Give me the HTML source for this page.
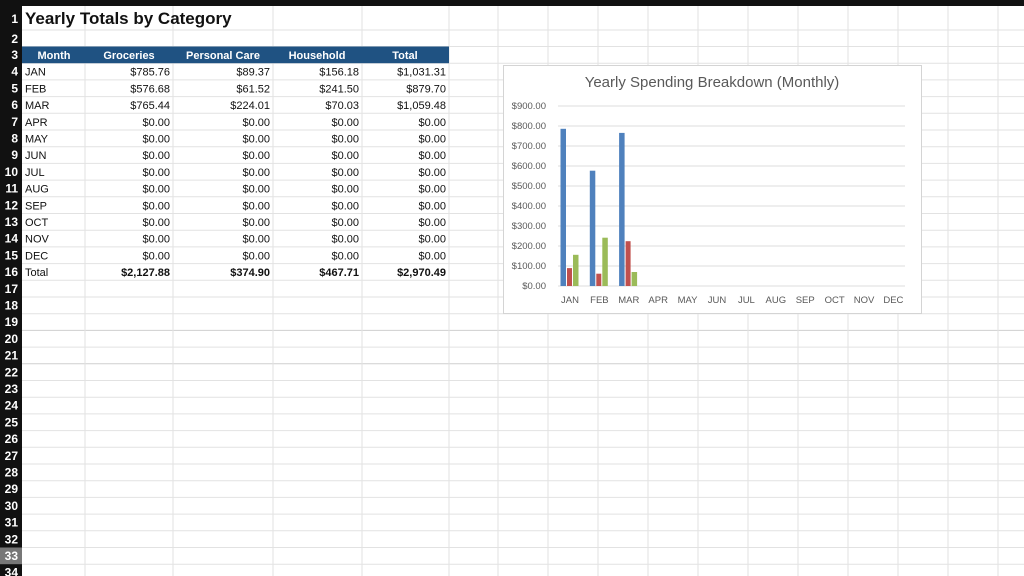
<!DOCTYPE html>
<html><head><meta charset="utf-8"><style>
html,body{margin:0;padding:0;background:#fff;}
svg{display:block;font-family:"Liberation Sans",sans-serif;}
</style></head><body>
<svg width="1024" height="576" viewBox="0 0 1024 576" xmlns="http://www.w3.org/2000/svg">
<rect width="1024" height="576" fill="#fff"/>
<!-- grid -->
<g stroke="#e2e2e2" stroke-width="1">
<line x1="22" y1="30" x2="1024" y2="30"/><line x1="22" y1="46.5" x2="1024" y2="46.5"/><line x1="22" y1="63.2" x2="1024" y2="63.2"/><line x1="22" y1="79.9" x2="1024" y2="79.9"/><line x1="22" y1="96.6" x2="1024" y2="96.6"/><line x1="22" y1="113.3" x2="1024" y2="113.3"/><line x1="22" y1="130" x2="1024" y2="130"/><line x1="22" y1="146.7" x2="1024" y2="146.7"/><line x1="22" y1="163.4" x2="1024" y2="163.4"/><line x1="22" y1="180.1" x2="1024" y2="180.1"/><line x1="22" y1="196.8" x2="1024" y2="196.8"/><line x1="22" y1="213.5" x2="1024" y2="213.5"/><line x1="22" y1="230.2" x2="1024" y2="230.2"/><line x1="22" y1="246.9" x2="1024" y2="246.9"/><line x1="22" y1="263.6" x2="1024" y2="263.6"/><line x1="22" y1="280.3" x2="1024" y2="280.3"/><line x1="22" y1="297" x2="1024" y2="297"/><line x1="22" y1="313.7" x2="1024" y2="313.7"/><line x1="22" y1="330.4" x2="1024" y2="330.4" stroke="#cfcfcf"/><line x1="22" y1="347.1" x2="1024" y2="347.1"/><line x1="22" y1="363.8" x2="1024" y2="363.8" stroke="#cfcfcf"/><line x1="22" y1="380.5" x2="1024" y2="380.5"/><line x1="22" y1="397.2" x2="1024" y2="397.2"/><line x1="22" y1="413.9" x2="1024" y2="413.9"/><line x1="22" y1="430.6" x2="1024" y2="430.6"/><line x1="22" y1="447.3" x2="1024" y2="447.3"/><line x1="22" y1="464" x2="1024" y2="464"/><line x1="22" y1="480.7" x2="1024" y2="480.7"/><line x1="22" y1="497.4" x2="1024" y2="497.4"/><line x1="22" y1="514.1" x2="1024" y2="514.1"/><line x1="22" y1="530.8" x2="1024" y2="530.8"/><line x1="22" y1="547.5" x2="1024" y2="547.5"/><line x1="22" y1="564.2" x2="1024" y2="564.2"/>
<line x1="85" y1="6" x2="85" y2="576"/><line x1="173" y1="6" x2="173" y2="576"/><line x1="273" y1="6" x2="273" y2="576"/><line x1="362" y1="6" x2="362" y2="576"/><line x1="449" y1="6" x2="449" y2="576"/><line x1="498" y1="6" x2="498" y2="576"/><line x1="548" y1="6" x2="548" y2="576"/><line x1="598" y1="6" x2="598" y2="576"/><line x1="648" y1="6" x2="648" y2="576"/><line x1="698" y1="6" x2="698" y2="576"/><line x1="748" y1="6" x2="748" y2="576"/><line x1="798" y1="6" x2="798" y2="576"/><line x1="848" y1="6" x2="848" y2="576"/><line x1="898" y1="6" x2="898" y2="576"/><line x1="948" y1="6" x2="948" y2="576"/><line x1="998" y1="6" x2="998" y2="576"/>
</g>
<!-- headers -->
<rect x="0" y="0" width="1024" height="6" fill="#111"/>
<rect x="0" y="0" width="22" height="576" fill="#111"/>
<rect x="0" y="547.5" width="22" height="16.7" fill="#777"/>
<g fill="#fff" font-size="12" font-weight="bold" text-anchor="end">
<text x="18" y="23">1</text><text x="18" y="43">2</text><text x="18" y="59">3</text><text x="18" y="75.7">4</text><text x="18" y="92.4">5</text><text x="18" y="109.1">6</text><text x="18" y="125.8">7</text><text x="18" y="142.5">8</text><text x="18" y="159.2">9</text><text x="18" y="175.9">10</text><text x="18" y="192.6">11</text><text x="18" y="209.3">12</text><text x="18" y="226">13</text><text x="18" y="242.7">14</text><text x="18" y="259.4">15</text><text x="18" y="276.1">16</text><text x="18" y="292.8">17</text><text x="18" y="309.5">18</text><text x="18" y="326.2">19</text><text x="18" y="342.9">20</text><text x="18" y="359.6">21</text><text x="18" y="376.3">22</text><text x="18" y="393">23</text><text x="18" y="409.7">24</text><text x="18" y="426.4">25</text><text x="18" y="443.1">26</text><text x="18" y="459.8">27</text><text x="18" y="476.5">28</text><text x="18" y="493.2">29</text><text x="18" y="509.9">30</text><text x="18" y="526.6">31</text><text x="18" y="543.3">32</text><text x="18" y="560">33</text><text x="18" y="576.7">34</text>
</g>
<!-- title -->
<text x="25" y="24" font-size="17" font-weight="bold" fill="#111">Yearly Totals by Category</text>
<!-- table header -->
<rect x="22" y="46.5" width="427" height="16.7" fill="#1f5282"/>
<g fill="#fff" font-size="11" font-weight="bold" text-anchor="middle">
<text x="54" y="59">Month</text><text x="129" y="59">Groceries</text><text x="223" y="59">Personal Care</text><text x="317" y="59">Household</text><text x="405" y="59">Total</text>
</g>
<g fill="#111" font-size="11">
<text x="25" y="75.7">JAN</text><text x="25" y="92.4">FEB</text><text x="25" y="109.1">MAR</text><text x="25" y="125.8">APR</text><text x="25" y="142.5">MAY</text><text x="25" y="159.2">JUN</text><text x="25" y="175.9">JUL</text><text x="25" y="192.6">AUG</text><text x="25" y="209.3">SEP</text><text x="25" y="226">OCT</text><text x="25" y="242.7">NOV</text><text x="25" y="259.4">DEC</text><text x="25" y="276.1">Total</text>
</g>
<g fill="#111" font-size="11" text-anchor="end">
<text x="170" y="75.7">$785.76</text><text x="270" y="75.7">$89.37</text><text x="359" y="75.7">$156.18</text><text x="446" y="75.7">$1,031.31</text>
<text x="170" y="92.4">$576.68</text><text x="270" y="92.4">$61.52</text><text x="359" y="92.4">$241.50</text><text x="446" y="92.4">$879.70</text>
<text x="170" y="109.1">$765.44</text><text x="270" y="109.1">$224.01</text><text x="359" y="109.1">$70.03</text><text x="446" y="109.1">$1,059.48</text>
<text x="170" y="125.8">$0.00</text><text x="270" y="125.8">$0.00</text><text x="359" y="125.8">$0.00</text><text x="446" y="125.8">$0.00</text>
<text x="170" y="142.5">$0.00</text><text x="270" y="142.5">$0.00</text><text x="359" y="142.5">$0.00</text><text x="446" y="142.5">$0.00</text>
<text x="170" y="159.2">$0.00</text><text x="270" y="159.2">$0.00</text><text x="359" y="159.2">$0.00</text><text x="446" y="159.2">$0.00</text>
<text x="170" y="175.9">$0.00</text><text x="270" y="175.9">$0.00</text><text x="359" y="175.9">$0.00</text><text x="446" y="175.9">$0.00</text>
<text x="170" y="192.6">$0.00</text><text x="270" y="192.6">$0.00</text><text x="359" y="192.6">$0.00</text><text x="446" y="192.6">$0.00</text>
<text x="170" y="209.3">$0.00</text><text x="270" y="209.3">$0.00</text><text x="359" y="209.3">$0.00</text><text x="446" y="209.3">$0.00</text>
<text x="170" y="226">$0.00</text><text x="270" y="226">$0.00</text><text x="359" y="226">$0.00</text><text x="446" y="226">$0.00</text>
<text x="170" y="242.7">$0.00</text><text x="270" y="242.7">$0.00</text><text x="359" y="242.7">$0.00</text><text x="446" y="242.7">$0.00</text>
<text x="170" y="259.4">$0.00</text><text x="270" y="259.4">$0.00</text><text x="359" y="259.4">$0.00</text><text x="446" y="259.4">$0.00</text>
<g font-weight="bold"><text x="170" y="276.1">$2,127.88</text><text x="270" y="276.1">$374.90</text><text x="359" y="276.1">$467.71</text><text x="446" y="276.1">$2,970.49</text></g>
</g>
<!-- chart -->
<rect x="503.5" y="65.5" width="418" height="248" fill="#fff" stroke="#d4d4d4"/>
<text x="712" y="87" font-size="15" fill="#595959" text-anchor="middle">Yearly Spending Breakdown (Monthly)</text>
<g stroke="#dcdcdc" stroke-width="1">
<line x1="558" y1="106" x2="905" y2="106"/><line x1="558" y1="126" x2="905" y2="126"/><line x1="558" y1="146" x2="905" y2="146"/><line x1="558" y1="166" x2="905" y2="166"/><line x1="558" y1="186" x2="905" y2="186"/><line x1="558" y1="206" x2="905" y2="206"/><line x1="558" y1="226" x2="905" y2="226"/><line x1="558" y1="246" x2="905" y2="246"/><line x1="558" y1="266" x2="905" y2="266"/><line x1="558" y1="286" x2="905" y2="286"/>
</g>
<g font-size="9.5" fill="#595959" text-anchor="end">
<text x="546" y="109">$900.00</text><text x="546" y="129">$800.00</text><text x="546" y="149">$700.00</text><text x="546" y="169">$600.00</text><text x="546" y="189">$500.00</text><text x="546" y="209">$400.00</text><text x="546" y="229">$300.00</text><text x="546" y="249">$200.00</text><text x="546" y="269">$100.00</text><text x="546" y="289">$0.00</text>
</g>
<g>
<rect x="560.5" y="128.8" width="5.5" height="157.2" fill="#4f81bd"/><rect x="567" y="268.1" width="5" height="17.9" fill="#c0504d"/><rect x="573" y="254.8" width="5.5" height="31.2" fill="#9bbb59"/>
<rect x="589.8" y="170.7" width="5.5" height="115.3" fill="#4f81bd"/><rect x="596.3" y="273.7" width="5" height="12.3" fill="#c0504d"/><rect x="602.3" y="237.7" width="5.5" height="48.3" fill="#9bbb59"/>
<rect x="619.1" y="132.9" width="5.5" height="153.1" fill="#4f81bd"/><rect x="625.6" y="241.2" width="5" height="44.8" fill="#c0504d"/><rect x="631.6" y="272" width="5.5" height="14" fill="#9bbb59"/>
</g>
<g font-size="9.5" fill="#595959" text-anchor="middle">
<text x="570" y="303">JAN</text><text x="599.4" y="303">FEB</text><text x="628.8" y="303">MAR</text><text x="658.2" y="303">APR</text><text x="687.6" y="303">MAY</text><text x="717" y="303">JUN</text><text x="746.4" y="303">JUL</text><text x="775.8" y="303">AUG</text><text x="805.2" y="303">SEP</text><text x="834.6" y="303">OCT</text><text x="864" y="303">NOV</text><text x="893.4" y="303">DEC</text>
</g>
</svg>
</body></html>
